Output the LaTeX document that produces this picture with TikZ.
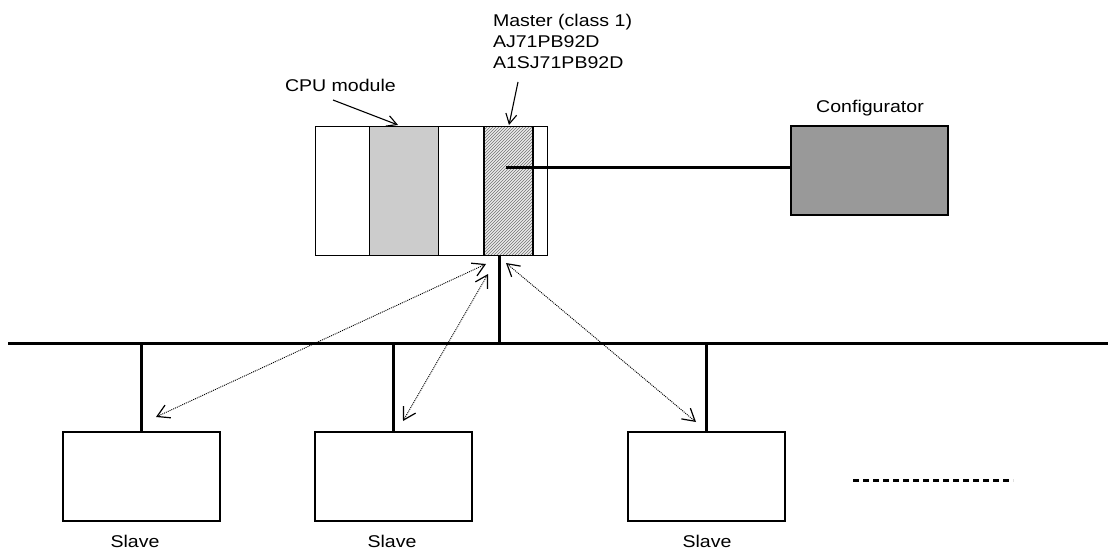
\documentclass[tikz,border=0pt]{standalone}
\usepackage{fontspec}
\setmainfont{Liberation Sans}
\usetikzlibrary{arrows.meta,patterns}
\newcommand{\sx}[1]{\scalebox{1.15}[1]{#1}}
\tikzset{
  lbl/.style={font=\fontsize{17}{21}\selectfont, inner sep=0pt, outer sep=0pt},
  slot/.style={draw, line width=0.9pt, inner sep=0pt, outer sep=0pt, anchor=north west, minimum height=129pt},
  devbox/.style={draw, line width=1.2pt, inner sep=0pt, outer sep=0pt, anchor=north west, minimum width=157pt, minimum height=89pt},
  heavy/.style={line width=3pt},
  comm/.style={line width=0.9pt, dash pattern=on 1pt off 1pt, {Straight Barb[length=12pt,width=14pt,line width=1.2pt]}-{Straight Barb[length=12pt,width=14pt,line width=1.2pt]}},
  pointer/.style={line width=1.1pt, -{Straight Barb[length=10pt,width=11pt,line width=1.1pt]}}
}
\begin{document}
\begin{tikzpicture}[x=1pt,y=-1pt]
\useasboundingbox (0,0) rectangle (1108,551);
% rack
\node[slot, minimum width=54pt] (sl1) at (315,126) {};
\node[slot, minimum width=69pt, fill=black!20] (cpu) at (369,126) {};
\node[slot, minimum width=46pt] (sl3) at (438,126) {};
\node[slot, minimum width=14pt] (sl5) at (533,126) {};
\node[slot, minimum width=49pt, line width=0.9pt, preaction={fill=black!8}, pattern=north east lines, pattern color=black!55] (mst) at (484,126) {};
\draw[line width=2pt] (mst.north west) -- (mst.south west) (mst.north east) -- (mst.south east);
% configurator
\node[draw, line width=1.2pt, fill=black!40, inner sep=0pt, outer sep=0pt, anchor=north west, minimum width=157pt, minimum height=89pt] (conf) at (791,126) {};
\coordinate (mc) at (506,167);
\draw[heavy] (mc) -- (mc -| conf.west);
% bus
\coordinate (busL) at (8,343);
\coordinate (busR) at (1108,343);
\draw[heavy] (busL) -- (busR);
\coordinate (rb) at (499,255);
\draw[heavy] (rb) -- (rb |- busL);
% slaves
\node[devbox] (s1) at (63,432) {};
\node[devbox] (s2) at (315,432) {};
\node[devbox] (s3) at (628,432) {};
\draw[heavy] (s1.north) -- (s1.north |- busL);
\draw[heavy] (s2.north) -- (s2.north |- busL);
\draw[heavy] (s3.north) -- (s3.north |- busL);
% dashed continuation
\coordinate (dA) at (853,480);
\coordinate (dB) at (1013,480);
\draw[line width=3pt, dash pattern=on 6pt off 4pt] (dA) -- (dB);
% communication arrows
\coordinate (a1) at (486,264);
\coordinate (b1) at (156,417);
\coordinate (a2) at (488,274);
\coordinate (b2) at (403,421);
\coordinate (a3) at (506,263);
\coordinate (b3) at (696,422);
\draw[comm] (a1) -- (b1);
\draw[comm] (a2) -- (b2);
\draw[comm] (a3) -- (b3);
% labels
\node[lbl, anchor=base west] (cpul) at (285,92) {\sx{CPU module}};
\coordinate (cpuT) at (333,100);
\coordinate (cpuH) at (398,125);
\draw[pointer] (cpuT) -- (cpuH);
\node[lbl, anchor=base west] (mstl1) at (493,27) {\sx{Master (class 1)}};
\node[lbl, anchor=base west] (mstl2) at (493,48) {\sx{AJ71PB92D}};
\node[lbl, anchor=base west] (mstl3) at (493,69) {\sx{A1SJ71PB92D}};
\coordinate (mT) at (518,82);
\coordinate (mH) at (509,125);
\draw[pointer] (mT) -- (mH);
\node[lbl, anchor=base] (confl) at (870,112) {\sx{Configurator}};
\node[lbl, anchor=base] (sl1l) at (135,547) {\sx{Slave}};
\node[lbl, anchor=base] (sl2l) at (392,547) {\sx{Slave}};
\node[lbl, anchor=base] (sl3l) at (707,547) {\sx{Slave}};
\end{tikzpicture}
\end{document}
